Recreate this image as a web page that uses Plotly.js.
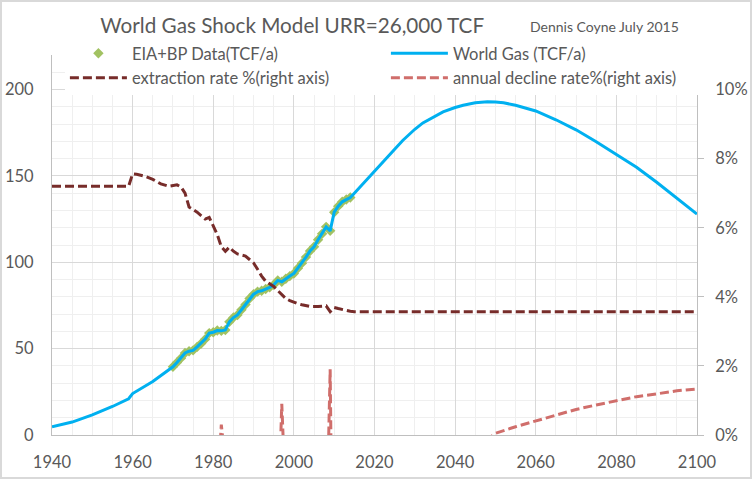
<!DOCTYPE html>
<html>
<head>
<meta charset="utf-8">
<script src="https://cdn.plot.ly/plotly-3.0.1.min.js"></script>
<style>
  html, body { margin: 0; padding: 0; background: #fff; }
  #chart { width: 752px; height: 479px; box-sizing: border-box; border: 2px solid #d9d9d9; }
</style>
</head>
<body>
<div id="chart"></div>
<script>
// model curve (TCF/a)
const modelYears = [1940, 1945, 1950, 1955, 1959, 1960, 1965,
    1970, 1971, 1972, 1973, 1974, 1975, 1976, 1977, 1978, 1979,
    1980, 1981, 1982, 1983, 1984, 1985, 1986, 1987, 1988, 1989,
    1990, 1991, 1992, 1993, 1994, 1995, 1996, 1997, 1998, 1999,
    2000, 2001, 2002, 2003, 2004, 2005, 2006, 2007, 2008, 2009,
    2010, 2011, 2012, 2013, 2014, 2015, 2020, 2022, 2025, 2027,
    2030, 2032, 2035, 2037, 2040, 2042, 2045, 2048, 2050, 2052,
    2055, 2060, 2065, 2070, 2075, 2080, 2085, 2090, 2095, 2100];
const modelGas = [4.8, 7.5, 11.6, 16.5, 21, 24, 31,
    39.5, 42, 44.5, 47.5, 48.5, 49, 51, 53, 55.5, 59,
    59.5, 60.5, 60.3, 60.8, 65.5, 68, 69.5, 72.5, 75.5, 79,
    81.5, 83, 83.5, 84.5, 85.5, 87, 89.5, 88.7, 90.5, 92,
    93.5, 96.5, 99.5, 103, 106.5, 109, 113, 116.5, 120.5, 118.2,
    129, 132.5, 135, 136.3, 137.5, 140, 153, 158.3, 165.5, 170.5,
    177, 180.7, 184.8, 187.1, 189.6, 190.9, 192.3, 193, 192.8, 192.3,
    190.9, 187.6, 182.5, 176.7, 169.8, 162.6, 155, 146.3, 137.2, 127.9];

// EIA + BP historical data (TCF/a)
const dataYears = [1970, 1971, 1972, 1973, 1974, 1975, 1976, 1977, 1978, 1979,
    1980, 1981, 1982, 1983, 1984, 1985, 1986, 1987, 1988, 1989,
    1990, 1991, 1992, 1993, 1994, 1995, 1996, 1997, 1998, 1999,
    2000, 2001, 2002, 2003, 2004, 2005, 2006, 2007, 2008, 2009,
    2010, 2011, 2012, 2013, 2014];
const dataGas = [39.5, 42, 44.5, 47.5, 48.5, 49, 51, 53, 55.5, 59,
    59.5, 60.5, 60.3, 60.8, 65.5, 68, 69.5, 72.5, 75.5, 79,
    81.5, 83, 83.5, 84.5, 85.5, 87, 89.5, 88.7, 90.5, 92,
    93.5, 96.5, 99.5, 103, 106.5, 109, 113, 116.5, 120.5, 118.2,
    129, 132.5, 135, 136.3, 137.5];

// extraction rate (% of remaining, right axis)
const extrYears = [1940, 1959, 1960, 1961, 1963, 1965, 1967, 1969, 1971, 1972,
    1973, 1974, 1976, 1978, 1979, 1980, 1981, 1982, 1983, 1984,
    1985, 1986, 1988, 1989, 1990, 1991, 1992, 1993, 1994, 1995,
    1996, 1997, 1998, 1999, 2000, 2001, 2002, 2004, 2006, 2008,
    2009, 2010, 2011, 2012, 2013, 2014, 2015, 2100];
const extrRate = [7.2, 7.2, 7.56, 7.55, 7.49, 7.4, 7.27, 7.2, 7.24, 7.18,
    7.0, 6.6, 6.45, 6.25, 6.3, 6.05, 5.8, 5.45, 5.32, 5.44,
    5.32, 5.24, 5.18, 5.08, 4.98, 4.8, 4.6, 4.45, 4.38, 4.3,
    4.18, 4.05, 3.95, 3.89, 3.84, 3.8, 3.77, 3.72, 3.72, 3.74,
    3.57, 3.69, 3.66, 3.63, 3.6, 3.58, 3.57, 3.57];

// annual decline rate (%, right axis); negative = growth, clipped by the axis
const declYears = [1981, 1982, 1983, 1990, 1996, 1997, 1998, 2003, 2008, 2009, 2010, 2030,
    2045, 2050, 2055, 2060, 2065, 2070, 2075, 2080, 2085, 2090, 2095, 2100];
const declRate = [-1.7, 0.3, -0.8, null, -2.9, 0.9, -2.0, null, -3.4, 1.9, -8.8, null,
    -0.4, 0.05, 0.24, 0.41, 0.58, 0.74, 0.87, 0.99, 1.11, 1.19, 1.28, 1.33];

const font = 'Lato, "Open Sans", sans-serif';
const grey = '#595959';

const traces = [
    {
        name: 'EIA+BP Data(TCF/a)',
        x: dataYears, y: dataGas,
        type: 'scatter', mode: 'markers',
        marker: {symbol: 'diamond', size: 8, color: '#a2c262'},
    },
    {
        name: 'World Gas (TCF/a)',
        x: modelYears, y: modelGas,
        type: 'scatter', mode: 'lines',
        line: {color: '#00b0f0', width: 3},
    },
    {
        name: 'extraction rate %(right axis)',
        x: extrYears, y: extrRate, yaxis: 'y2',
        type: 'scatter', mode: 'lines',
        line: {color: '#772c2a', width: 3, dash: '9px,4px'},
    },
    {
        name: 'annual decline rate%(right axis)',
        x: declYears, y: declRate, yaxis: 'y2',
        type: 'scatter', mode: 'lines',
        line: {color: '#d06e6b', width: 3, dash: '9px,4px'},
    },
];

const layout = {
    width: 748,
    height: 475,
    margin: {l: 50, r: 53, t: 53, b: 42},
    paper_bgcolor: '#fff',
    plot_bgcolor: '#fff',
    font: {family: font, color: grey, size: 16},
    title: {
        text: 'World Gas Shock Model URR=26,000 TCF',
        font: {family: font, size: 20.7, color: grey},
        x: 0.388, xanchor: 'center',
        y: 0.951, yanchor: 'middle',
    },
    annotations: [{
        text: 'Dennis Coyne July 2015',
        xref: 'paper', yref: 'paper',
        x: 0.856, y: 1.074, xanchor: 'center', yanchor: 'middle',
        showarrow: false,
        font: {family: font, size: 14, color: grey},
    }],
    showlegend: true,
    legend: {
        orientation: 'h',
        x: 0.02, xanchor: 'left',
        y: 1.05, yanchor: 'top',
        bgcolor: '#fff',
        font: {family: font, size: 16.5, color: grey},
        itemwidth: 57,
        entrywidth: 249,
        tracegroupgap: 0,
    },
    xaxis: {
        range: [1940, 2100],
        tick0: 1940, dtick: 20,
        showline: true, linecolor: '#bfbfbf', linewidth: 1,
        showgrid: true, gridcolor: '#d9d9d9',
        minor: {dtick: 5, showgrid: true, gridcolor: '#efefef'},
        zeroline: false,
        ticks: '',
        ticklabelstandoff: 12,
        tickfont: {family: font, size: 16.5, color: grey},
        fixedrange: true,
    },
    yaxis: {
        range: [0, 220],
        tick0: 0, dtick: 50,
        showline: true, linecolor: '#bfbfbf', linewidth: 1,
        showgrid: true, gridcolor: '#d9d9d9',
        minor: {dtick: 10, showgrid: true, gridcolor: '#efefef'},
        zeroline: false,
        ticks: '',
        ticklabelstandoff: 14,
        tickfont: {family: font, size: 16.5, color: grey},
        fixedrange: true,
    },
    yaxis2: {
        overlaying: 'y', side: 'right',
        range: [0, 11],
        tick0: 0, dtick: 2,
        ticksuffix: '%',
        showline: true, linecolor: '#bfbfbf', linewidth: 1,
        showgrid: false, zeroline: false,
        ticks: 'outside', ticklen: 6, tickcolor: '#bfbfbf',
        ticklabelstandoff: 8,
        tickfont: {family: font, size: 16.5, color: grey},
        fixedrange: true,
    },
};

Plotly.newPlot('chart', traces, layout, {displayModeBar: false, staticPlot: true});
</script>
</body>
</html>
